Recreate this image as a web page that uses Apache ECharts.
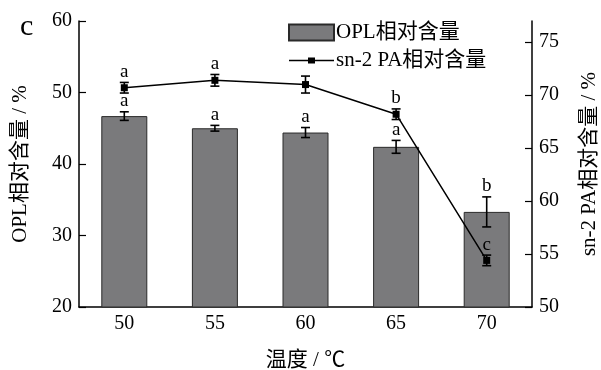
<!DOCTYPE html>
<html>
<head>
<meta charset="utf-8">
<script src="https://cdn.jsdelivr.net/npm/echarts@6/dist/echarts.min.js"></script>
<style>html,body{margin:0;padding:0;background:#fff;}#c{width:601px;height:370px;}</style>
</head>
<body>
<div id="c"></div>
<script>
var categories = ['50', '55', '60', '65', '70'];
var oplValues = [46.7, 45.0, 44.4, 42.4, 33.3];
var oplErrors = [0.6, 0.4, 0.7, 0.9, 2.1];
var oplLetters = ['a', 'a', 'a', 'a', 'b'];
var paValues = [70.7, 71.4, 71.0, 68.2, 54.4];
var paErrors = [0.5, 0.55, 0.8, 0.5, 0.5];
var paLetters = ['a', 'a', '', 'b', 'c'];
var leftTicks = [20, 30, 40, 50, 60];
var rightTicks = [50, 55, 60, 65, 70, 75];

var FONT = "'Times New Roman','Liberation Serif','Noto Sans CJK SC',serif";

function errData(vals, errs, letters) {
  return vals.map(function (v, i) { return [i, v, errs[i], letters[i]]; });
}

function errRender(params, api) {
  var x = api.value(0), v = api.value(1), e = api.value(2);
  var letter = api.value(3);
  var top = api.coord([x, v + e]);
  var bot = api.coord([x, v - e]);
  var cap = 4.5;
  var st = { stroke: '#000', lineWidth: 1.6 };
  return {
    type: 'group',
    children: [
      { type: 'line', shape: { x1: top[0], y1: top[1], x2: bot[0], y2: bot[1] }, style: st },
      { type: 'line', shape: { x1: top[0] - cap, y1: top[1], x2: top[0] + cap, y2: top[1] }, style: st },
      { type: 'line', shape: { x1: bot[0] - cap, y1: bot[1], x2: bot[0] + cap, y2: bot[1] }, style: st },
      { type: 'text', x: top[0], y: top[1] - 1, style: { text: letter, fill: '#000', font: '19px ' + FONT, align: 'center', verticalAlign: 'bottom' } }
    ]
  };
}

var chart = echarts.init(document.getElementById('c'));
chart.setOption({
  animation: false,
  backgroundColor: '#fff',
  textStyle: { fontFamily: FONT, color: '#000' },
  grid: { left: 79, right: 69, top: 21, bottom: 63, containLabel: false, outerBoundsMode: 'none' },
  graphic: [{ type: 'text', left: 20, top: 12, style: { text: 'c', font: '30px ' + FONT, fill: '#000' } }],
  legend: {
    orient: 'vertical',
    left: 283, top: 17,
    itemWidth: 45, itemHeight: 16, itemGap: 7,
    textStyle: { fontFamily: FONT, fontSize: 21, color: '#000', padding: [0, 0, 0, -3] },
    data: [
      { name: 'OPL相对含量', icon: 'rect' },
      { name: 'sn-2 PA相对含量', icon: 'path://M0,0L0,0M45,16L45,16M0,7.3L45,7.3L45,8.7L0,8.7Z M19,5L26,5L26,11L19,11Z' }
    ]
  },
  xAxis: {
    type: 'category',
    data: categories,
    name: '温度 / ℃',
    nameLocation: 'middle',
    nameGap: 43,
    nameTextStyle: { fontSize: 21, fontFamily: FONT, color: '#000' },
    axisLine: { lineStyle: { color: '#000', width: 1.5 } },
    axisTick: { inside: true, alignWithLabel: true, length: 5, lineStyle: { color: '#000', width: 1.2 } },
    axisLabel: { fontSize: 20, color: '#000', margin: 7, fontFamily: FONT }
  },
  yAxis: [{
    type: 'value', min: 20, max: 60, interval: 10,
    name: 'OPL相对含量 / %',
    nameLocation: 'middle', nameGap: 48,
    nameTextStyle: { fontSize: 21, fontFamily: FONT, color: '#000' },
    splitLine: { show: false },
    axisLine: { show: true, lineStyle: { color: '#000', width: 1.5 } },
    axisTick: { show: true, inside: true, length: 7, lineStyle: { color: '#000', width: 1.2 }, customValues: leftTicks },
    axisLabel: { fontSize: 20, color: '#000', margin: 7, fontFamily: FONT, customValues: leftTicks }
  }, {
    type: 'value', min: 50, max: 77, interval: 5,
    name: 'sn-2 PA相对含量 / %',
    nameLocation: 'middle', nameGap: 47,
    nameRotate: 90,
    nameTextStyle: { fontSize: 21, fontFamily: FONT, color: '#000' },
    splitLine: { show: false },
    axisLine: { show: true, lineStyle: { color: '#000', width: 1.5 } },
    axisTick: { show: true, inside: true, length: 7, lineStyle: { color: '#000', width: 1.2 }, customValues: rightTicks },
    axisLabel: { fontSize: 20, color: '#000', margin: 7, fontFamily: FONT, customValues: rightTicks }
  }],
  series: [{
    name: 'OPL相对含量',
    type: 'bar',
    data: oplValues,
    barWidth: 46,
    itemStyle: { color: '#7a7a7c', borderColor: '#2a2a2a', borderWidth: 1 },
    z: 1
  }, {
    name: 'sn-2 PA相对含量',
    type: 'line',
    yAxisIndex: 1,
    data: paValues,
    symbol: 'rect',
    symbolSize: 7,
    lineStyle: { color: '#000', width: 1.5 },
    itemStyle: { color: '#000' },
    z: 3
  }, {
    type: 'custom',
    name: 'oplErr',
    renderItem: errRender,
    data: errData(oplValues, oplErrors, oplLetters),
    encode: { x: 0, y: 1 },
    z: 4
  }, {
    type: 'custom',
    name: 'paErr',
    yAxisIndex: 1,
    renderItem: errRender,
    data: errData(paValues, paErrors, paLetters),
    encode: { x: 0, y: 1 },
    z: 4
  }]
});
</script>
</body>
</html>
